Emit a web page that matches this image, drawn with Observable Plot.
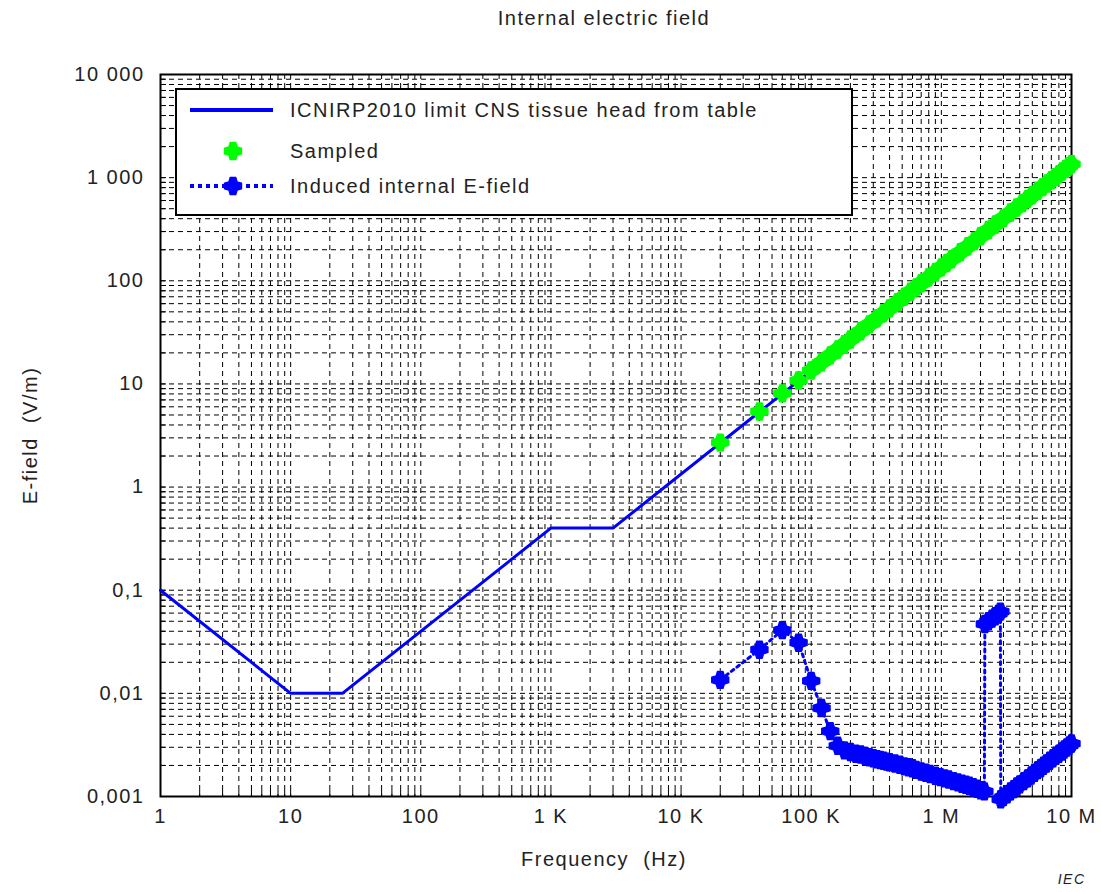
<!DOCTYPE html>
<html>
<head>
<meta charset="utf-8">
<script src="https://cdn.jsdelivr.net/npm/d3@7"></script>
<script src="https://cdn.jsdelivr.net/npm/@observablehq/plot@0.6"></script>
<style>
  html, body { margin: 0; padding: 0; background: #fff; }
  #wrap { position: relative; width: 1101px; height: 892px; font-family: "Liberation Sans", Arial, sans-serif; }
  #wrap svg text { letter-spacing: 1.5px; }
  #legend { position: absolute; left: 175px; top: 88px; width: 674px; height: 124px; border: 2px solid #000; background: #fff; }
  #legend svg { position: absolute; left: 0; top: 0; }
  .lg { position: absolute; left: 113px; font-size: 20px; color: #222; letter-spacing: 1.5px; line-height: 1; white-space: nowrap; }
</style>
</head>
<body>
<div id="wrap"></div>
<script>
// ---- Data ----
const titleText = "Internal electric field";
const xLabel = "Frequency\u00a0\u00a0(Hz)";
const yLabel = "E-field\u00a0\u00a0(V/m)";
const legendNames = ["ICNIRP2010 limit CNS tissue head from table", "Sampled", "Induced internal E-field"];

const xTickValues = [1, 10, 100, 1e3, 1e4, 1e5, 1e6, 1e7];
const xTickLabels = ["1", "10", "100", "1 K", "10 K", "100 K", "1 M", "10 M"];
const yTickValues = [1e-3, 1e-2, 1e-1, 1, 10, 100, 1e3, 1e4];
const yTickLabels = ["0,001", "0,01", "0,1", "1", "10", "100", "1 000", "10 000"];

// ICNIRP 2010 limit (Hz, V/m)
const limitFreq = [1, 10, 25, 1000, 3000, 1e7];
const limitE = [0.1, 0.01, 0.01, 0.4, 0.4, 1350];

// Sampled points (kHz, V/m)
const sampledFreqKHz = [20,40,60,80,100,120,140,160,180,200,240,280,320,360,400,460,520,580,640,700,800,900,1000,1100,1200,1400,1600,1800,2000,2300,2600,3000,3400,3800,4200,4600,5000,5500,6000,6500,7000,7500,8000,8500,9000,9500,10000];
const sampledE = [2.7,5.4,8.1,10.8,13.5,16.2,18.9,21.6,24.3,27,32.4,37.8,43.2,48.6,54,62.1,70.2,78.3,86.4,94.5,108,121.5,135,148.5,162,189,216,243,270,310.5,351,405,459,513,567,621,675,742.5,810,877.5,945,1012.5,1080,1147.5,1215,1282.5,1350];

// Induced internal E-field (kHz, V/m)
const inducedFreqKHz = [20,40,60,80,100,120,140,160,180,200,220,240,260,280,300,320,340,360,380,400,440,480,520,560,600,640,700,760,820,900,980,1060,1140,1240,1340,1440,1540,1640,1760,1880,2000,2140,2160,2300,2450,2600,2740,2840,2860,3000,3200,3400,3600,3800,4000,4300,4600,4900,5200,5500,5800,6100,6400,6800,7200,7600,8000,8400,8800,9200,9600,10000];
const inducedE = [0.0135,0.0265,0.041,0.031,0.0132,0.0072,0.0043,0.0031,0.0028,0.0027,0.0026,0.00255,0.00247,0.0024,0.00235,0.0023,0.00226,0.00222,0.00218,0.00215,0.00209,0.00203,0.00196,0.00192,0.00188,0.00181,0.00175,0.00170,0.00165,0.00159,0.00154,0.00150,0.00146,0.00141,0.00137,0.00133,0.00130,0.00127,0.00123,0.00119,0.00115,0.00112,0.047,0.05,0.053,0.056,0.059,0.062,0.00094,0.00099,0.00105,0.00112,0.00118,0.00125,0.00131,0.00141,0.0015,0.0016,0.0017,0.0018,0.00189,0.00199,0.00209,0.00222,0.00235,0.00248,0.0026,0.00273,0.00286,0.00299,0.00312,0.00326];

// ---- Tables ----
const limit = limitFreq.map((f, i) => ({f, e: limitE[i]}));
const sampled = sampledFreqKHz.map((f, i) => ({f: f * 1000, e: sampledE[i]}));
const induced = inducedFreqKHz.map((f, i) => ({f: f * 1000, e: inducedE[i]}));
const sampledDense = sampled.filter(d => d.f >= 100000);

const xFmt = new Map(xTickValues.map((v, i) => [v, xTickLabels[i]]));
const yFmt = new Map(yTickValues.map((v, i) => [v, yTickLabels[i]]));
const xMinor = d3.scaleLog().domain([1, 1e7]).ticks();
const yMinor = d3.scaleLog().domain([1e-3, 1e4]).ticks();

const BLUE = "#0000ff";
const GREEN = "#00ff00";
const gridStyle = {stroke: "#000", strokeOpacity: 1, strokeWidth: 1, strokeDasharray: "5,4"};

// fat cross marker (plus with filled inner corners)
const fatCross = {
  draw(ctx, size) {
    const R = Math.sqrt(size / Math.PI) * 1.3, a = R * 0.32, b = R * 0.48;
    ctx.moveTo(R, -a); ctx.lineTo(R, a); ctx.lineTo(b, b);
    ctx.lineTo(a, R); ctx.lineTo(-a, R); ctx.lineTo(-b, b);
    ctx.lineTo(-R, a); ctx.lineTo(-R, -a); ctx.lineTo(-b, -b);
    ctx.lineTo(-a, -R); ctx.lineTo(a, -R); ctx.lineTo(b, -b);
    ctx.closePath();
  }
};

const chart = Plot.plot({
  width: 1101,
  height: 892,
  marginLeft: 160,
  marginRight: 30,
  marginTop: 74,
  marginBottom: 96,
  style: {fontFamily: "'Liberation Sans', Arial, sans-serif", fontSize: "20px", color: "#222", background: "#fff"},
  x: {type: "log", domain: [1, 1e7]},
  y: {type: "log", domain: [1e-3, 1e4]},
  marks: [
    Plot.gridX(xMinor, gridStyle),
    Plot.gridY(yMinor, gridStyle),
    Plot.axisX(xMinor, {tickSize: -6, tickFormat: () => "", label: null, stroke: "#000"}),
    Plot.axisY(yMinor, {tickSize: -6, tickFormat: () => "", label: null, stroke: "#000"}),
    Plot.axisX(xTickValues, {tickSize: 0, tickPadding: 12, tickFormat: d => xFmt.get(d), label: null, fontSize: 20}),
    Plot.axisY(yTickValues, {tickSize: 0, tickPadding: 16, tickFormat: d => yFmt.get(d), label: null, fontSize: 20}),
    Plot.frame({stroke: "#000", strokeWidth: 2}),
    Plot.line(limit, {x: "f", y: "e", stroke: BLUE, strokeWidth: 3}),
    Plot.line(sampledDense, {x: "f", y: "e", stroke: GREEN, strokeWidth: 15}),
    Plot.dot(sampled, {x: "f", y: "e", symbol: fatCross, r: 6.5, fill: GREEN, stroke: GREEN, strokeWidth: 1.5, strokeLinejoin: "round"}),
    Plot.line(induced, {x: "f", y: "e", stroke: BLUE, strokeWidth: 3, strokeDasharray: "3,4"}),
    Plot.dot(induced, {x: "f", y: "e", symbol: fatCross, r: 6.5, fill: BLUE, stroke: BLUE, strokeWidth: 1.5, strokeLinejoin: "round"}),
    Plot.text([titleText], {text: d => d, frameAnchor: "top", textAnchor: "middle", dx: -12, dy: -64, fontSize: 20}),
    Plot.text([xLabel], {text: d => d, frameAnchor: "bottom", textAnchor: "middle", dx: -12, dy: 69, fontSize: 20}),
    Plot.text([yLabel], {text: d => d, frameAnchor: "left", textAnchor: "middle", dx: -130, rotate: -90, fontSize: 20}),
    Plot.text(["IEC"], {text: d => d, frameAnchor: "bottom-right", textAnchor: "end", dx: 14, dy: 87, fontSize: 14, fontStyle: "italic", fill: "#222"})
  ]
});

const wrap = document.getElementById("wrap");
wrap.appendChild(chart);

// ---- Legend ----
const legend = document.createElement("div");
legend.id = "legend";
const rowsY = [20, 61, 96];
const sample = d3.create("svg").attr("width", 110).attr("height", 124);
const symPath = d3.symbol(fatCross, Math.PI * 6.5 * 6.5)();
sample.append("line").attr("x1", 13).attr("x2", 96).attr("y1", rowsY[0]).attr("y2", rowsY[0])
  .attr("stroke", BLUE).attr("stroke-width", 4);
sample.append("path").attr("d", symPath).attr("transform", `translate(56,${rowsY[1]})`)
  .attr("fill", GREEN).attr("stroke", GREEN).attr("stroke-width", 1.5).attr("stroke-linejoin", "round");
sample.append("line").attr("x1", 13).attr("x2", 96).attr("y1", rowsY[2]).attr("y2", rowsY[2])
  .attr("stroke", BLUE).attr("stroke-width", 4).attr("stroke-dasharray", "4,4");
sample.append("path").attr("d", symPath).attr("transform", `translate(56,${rowsY[2]})`)
  .attr("fill", BLUE).attr("stroke", BLUE).attr("stroke-width", 1.5).attr("stroke-linejoin", "round");
legend.appendChild(sample.node());
legendNames.forEach((name, i) => {
  const t = document.createElement("div");
  t.className = "lg";
  t.style.top = (rowsY[i] - 10) + "px";
  t.textContent = name;
  legend.appendChild(t);
});
wrap.appendChild(legend);
</script>
</body>
</html>
